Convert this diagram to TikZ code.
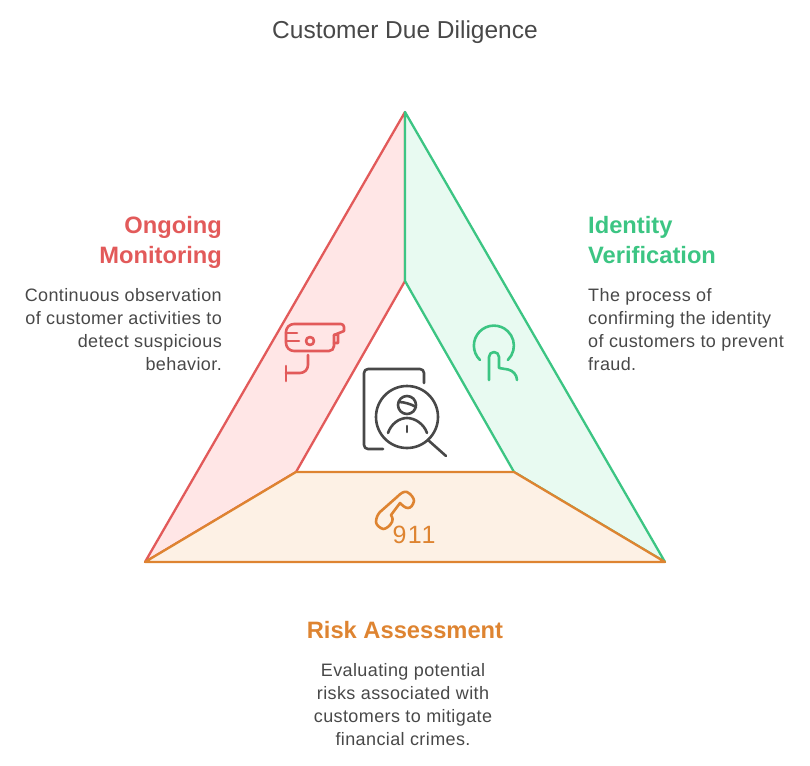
\documentclass[tikz,border=0pt]{standalone}
\usepackage{fontspec}
\setmainfont{Liberation Sans}
\newfontfamily\bodyfont[LetterSpace=2.2]{Liberation Sans}
\newfontfamily\digitfont[LetterSpace=6]{Liberation Sans}
\definecolor{redline}{HTML}{E25A5A}
\definecolor{redfill}{HTML}{FFE6E6}
\definecolor{greenline}{HTML}{3CC583}
\definecolor{greenfill}{HTML}{E8FAF1}
\definecolor{orangeline}{HTML}{DE8431}
\definecolor{orangefill}{HTML}{FDF1E5}
\definecolor{inkgray}{HTML}{484848}
\tikzset{
  panel/.style={line width=2.3pt,line join=round},
  icon/.style={line width=2.6pt,line cap=round,line join=round},
  heading/.style={font=\fontsize{23.7}{30}\selectfont\bfseries,inner sep=0pt},
  body/.style={font=\bodyfont\fontsize{18}{23}\selectfont,text=inkgray,inner sep=0pt},
}
\begin{document}
\begin{tikzpicture}[x=1pt,y=-1pt]
    \useasboundingbox (0,0) rectangle (810,765);
    % Paineis
    \draw[panel,draw=redline,fill=redfill] (405,112) -- (405,281) -- (296,472) -- (145,562) -- cycle;
    \draw[panel,draw=greenline,fill=greenfill] (405,112) -- (665,562) -- (514,472) -- (405,281) -- cycle;
    \draw[panel,draw=orangeline,fill=orangefill] (145,562) -- (296,472) -- (514,472) -- (665,562) -- cycle;
    % Camera
    \draw[icon,redline] (294,324) -- (341,324) arc (-90:0:3) -- (344,331) -- (334,335) -- (334,346) arc (0:90:5) -- (294,351)
        arc (90:180:8) -- (286,332) arc (180:270:8);
    \draw[icon,redline] (286,333) -- (297,333);
    \draw[icon,redline] (286,341) -- (299,341);
    \draw[icon,redline] (310,341) circle (4);
    \draw[icon,redline] (334,335) -- (338,334) -- (338,343) -- (334,343);
    \draw[icon,redline] (308,355) -- (308,365) arc (0:90:8) -- (286,373);
    \draw[icon,redline] (286,366) -- (286,381);
    % Dedo
    \draw[icon,greenline] (480,360) arc (134:406:20);
    \draw[icon,greenline] (489,380) -- (489,357) arc (180:360:5) -- (499,368) -- (508,369.5)
        .. controls (513,370.5) and (517,375) .. (517,380);
    % Telefone
    \draw[icon,orangeline] (397,497) .. controls (401,493) and (404,491) .. (407,492)
        .. controls (411,494) and (414,498) .. (414,501)
        .. controls (413,505) and (411,508) .. (408,508)
        .. controls (405,508) and (402,505) .. (400,503)
        -- (391,515)
        .. controls (393,518) and (393,521) .. (392,522)
        .. controls (390,526) and (386,529) .. (383,529)
        .. controls (380,528) and (376,525) .. (376,522)
        .. controls (376,518) and (378,514) .. (380,512) -- cycle;
    \node[inner sep=0pt,anchor=base,text=orangeline,font=\digitfont\fontsize{25}{25}\selectfont] (emergency) at (414,543) {911};
    % Lupa
    \draw[icon,inkgray] (424,383) -- (424,373) arc (0:-90:4) -- (368,369) arc (-90:-180:4) -- (364,445) arc (180:90:4) -- (383,449);
    \draw[icon,inkgray] (407,417) circle (31);
    \draw[icon,inkgray] (428,440) -- (446,456);
    \draw[icon,inkgray] (407,405) circle (9);
    \draw[icon,inkgray] (399,402) .. controls (404,402) and (411,404) .. (416,407);
    \draw[icon,inkgray] (388,433) .. controls (391,424) and (399,418) .. (407,418) .. controls (415,418) and (424,424) .. (427,433);
    \draw[icon,inkgray] (407,426) -- (407,432);
    % Textos
    \node[inner sep=0pt,anchor=base,text=inkgray,font=\fontsize{24.5}{24.5}\selectfont] (title) at (405,39) {Customer Due Diligence};
    \node[heading,text=redline,align=right,anchor=north east] (monitorhead) at (222,216) {Ongoing\\Monitoring};
    \node[body,align=right,anchor=north east] (monitortext) at (222,288) {Continuous observation\\of customer activities to\\detect suspicious\\behavior.};
    \node[heading,text=greenline,align=left,anchor=north west] (identityhead) at (588,216) {Identity\\Verification};
    \node[body,align=left,anchor=north west] (identitytext) at (588,288) {The process of\\confirming the identity\\of customers to prevent\\fraud.};
    \node[heading,text=orangeline,anchor=base] (riskhead) at (405,638) {Risk Assessment};
    \node[body,align=center,anchor=north] (risktext) at (403,663) {Evaluating potential\\risks associated with\\customers to mitigate\\financial crimes.};
\end{tikzpicture}
\end{document}
